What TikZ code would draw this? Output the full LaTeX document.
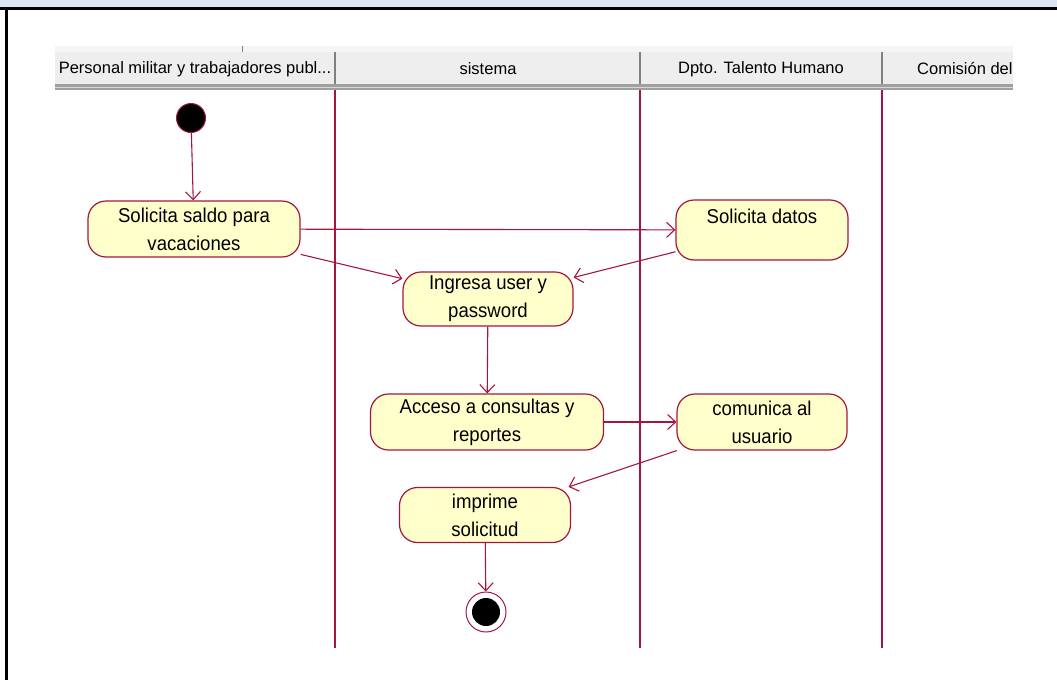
\documentclass[tikz,border=0pt]{standalone}
\usepackage{fontspec}
\setmainfont{Liberation Sans}
\newfontfamily\umlfont[FakeStretch=0.93]{Liberation Sans}
\usetikzlibrary{arrows.meta}
\definecolor{umlred}{RGB}{165,22,62}
\definecolor{umlfill}{RGB}{255,255,204}
\definecolor{bandblue}{RGB}{219,229,241}
\definecolor{headgray}{RGB}{238,238,238}
\begin{document}
\begin{tikzpicture}[x=1pt,y=-1pt,
    activity/.style={draw=umlred, fill=umlfill, line width=1.2pt, rounded corners=18pt,
        minimum height=56pt, align=center, inner sep=2pt, font=\umlfont\fontsize{20}{28}\selectfont},
    flow/.style={draw=umlred, line width=1.1pt, -{Straight Barb[length=8pt,width=15pt]}},
    lane/.style={umlred, line width=1.3pt},
    header/.style={font=\fontsize{16.5}{18}\selectfont, inner sep=0pt}]
    \useasboundingbox (0,0) rectangle (1057,680);

    % frame of the page
    \fill[bandblue] (0,0) rectangle (1057,8);
    \draw[line width=3pt] (0,8.5) -- (1057,8.5);
    \draw[line width=3pt] (6.5,8.5) -- (6.5,680);

    % swimlane headers
    \fill[headgray!60] (55,46) rectangle (1013,52);
    \draw[gray] (242,46) -- (242,52);
    \fill[headgray] (55,52) rectangle (1013,84);
    \fill[gray!75] (55,84) rectangle (1013,90);
    \draw[gray!30, line width=1pt] (55,87) -- (1013,87);
    \foreach \xs in {335,640,882}
        \draw[gray, line width=1.2pt] (\xs,52) -- (\xs,84);
    \begin{scope}
        \clip (55,52) rectangle (1013,84);
        \node[header] (lanePersonal) at (195,69) {Personal militar y trabajadores publ...};
        \node[header] (laneSistema) at (488,69) {sistema};
        \node[header] (laneDpto) at (761,69) {Dpto. Talento Humano};
        \node[header, anchor=west] (laneComision) at (917,69) {Comisión del};
    \end{scope}

    % swimlanes
    \foreach \xs in {335,640,882}
        \draw[lane] (\xs,90) -- (\xs,648);

    % activities
    \node[circle, fill=black, draw=umlred, line width=1pt, minimum size=29pt, inner sep=0pt] (start) at (191,118) {};
    \node[activity, minimum width=212pt] (saldo) at (194,229) {Solicita saldo para\\vacaciones};
    \node[activity, minimum width=172pt, minimum height=60pt] (datos) at (762,230) {Solicita datos\\\mbox{}};
    \node[activity, minimum width=170pt, minimum height=54pt] (ingresa) at (488,299) {Ingresa user y\\password};
    \node[activity, minimum width=233pt] (acceso) at (487,422) {Acceso a consultas y\\reportes};
    \node[activity, minimum width=170pt] (comunica) at (762,422) {comunica al\\usuario};
    \node[activity, minimum width=171pt, minimum height=55pt] (imprime) at (485,515) {imprime\\solicitud};
    \node[circle, draw=umlred, fill=white, line width=1pt, minimum size=40pt, inner sep=0pt] (final) at (486,612) {};
    \fill[black] (final) circle (14pt);

    % control flows
    \draw[flow] (start) -- (saldo);
    \draw[flow] (saldo) -- (datos);
    \draw[flow] (saldo) -- (ingresa);
    \draw[flow] (datos) -- (ingresa);
    \draw[flow] (ingresa) -- (acceso);
    \draw[flow] (acceso) -- (comunica);
    \draw[flow] (comunica) -- (imprime);
    \draw[flow] (imprime) -- (final);
\end{tikzpicture}
\end{document}
